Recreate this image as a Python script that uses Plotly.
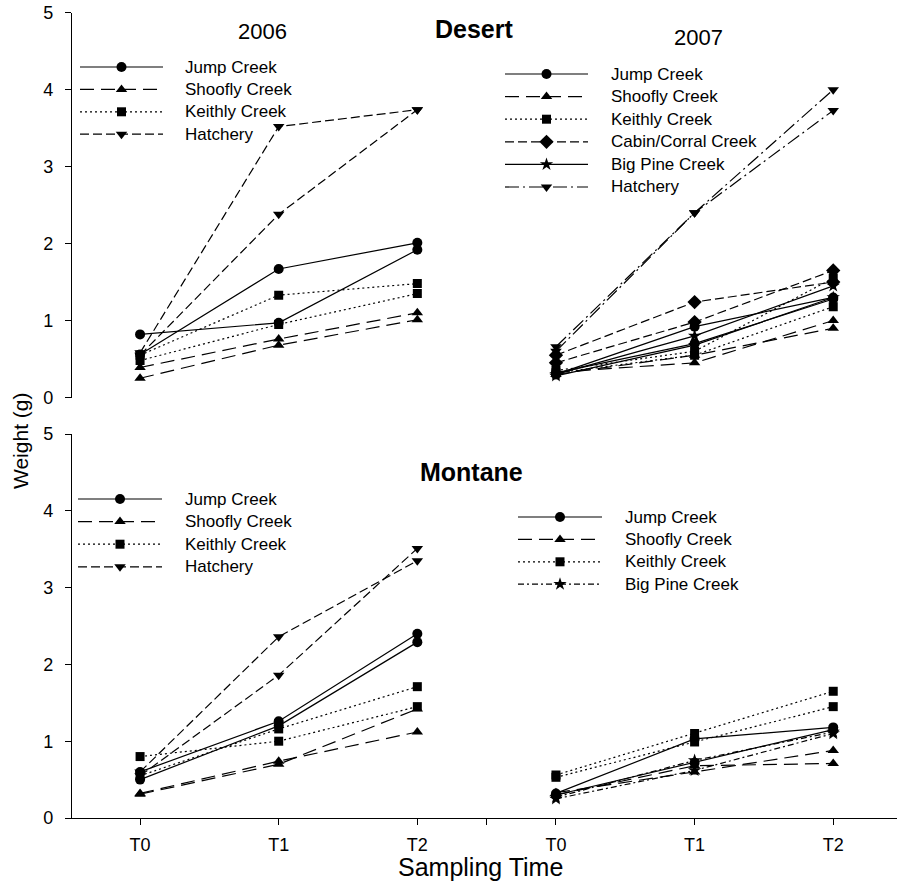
import plotly.graph_objects as go

# ---------------- data ----------------
TIMES = ["T0", "T1", "T2"]
YEARS = ["2006", "2007"]

# Desert 2006 (two replicate lines per site)
D06_JUMP = [[0.82, 0.97, 1.92], [0.56, 1.67, 2.01]]
D06_SHOOFLY = [[0.39, 0.76, 1.10], [0.25, 0.68, 1.01]]
D06_KEITHLY = [[0.55, 1.33, 1.48], [0.48, 0.95, 1.35]]
D06_HATCHERY = [[0.58, 3.52, 3.74], [0.55, 2.38, 3.74]]

# Desert 2007
D07_JUMP = [[0.30, 0.92, 1.30], [0.32, 0.70, 1.28]]
D07_SHOOFLY = [[0.33, 0.45, 1.00], [0.30, 0.55, 0.90]]
D07_KEITHLY = [[0.35, 0.60, 1.55], [0.32, 0.55, 1.18]]
D07_CABIN = [[0.55, 1.24, 1.50], [0.45, 0.98, 1.65]]
D07_BIGPINE = [[0.30, 0.80, 1.45], [0.28, 0.68, 1.30]]
D07_HATCHERY = [[0.66, 2.40, 4.00], [0.60, 2.40, 3.73]]

# Montane 2006
M06_JUMP = [[0.60, 1.26, 2.40], [0.50, 1.20, 2.29]]
M06_SHOOFLY = [[0.32, 0.74, 1.12], [0.31, 0.70, 1.42]]
M06_KEITHLY = [[0.80, 1.00, 1.45], [0.55, 1.16, 1.71]]
M06_HATCHERY = [[0.60, 2.36, 3.35], [0.55, 1.86, 3.51]]

# Montane 2007
M07_JUMP = [[0.32, 1.03, 1.18], [0.30, 0.72, 1.15]]
M07_SHOOFLY = [[0.33, 0.60, 0.88], [0.30, 0.68, 0.71]]
M07_KEITHLY = [[0.56, 1.10, 1.65], [0.53, 0.99, 1.45]]
M07_BIGPINE = [[0.27, 0.75, 1.12], [0.25, 0.62, 1.10]]

# ---------------- styles / layout ----------------
FONT = "Liberation Sans, Arial, Helvetica, sans-serif"
W, H = 897, 887
LW = 1.2

STYLE = {
    "Jump Creek": dict(symbol="circle", dash="solid", size=10),
    "Shoofly Creek": dict(symbol="triangle-up", dash="14px,7px", size=10),
    "Keithly Creek": dict(symbol="square", dash="2px,3px", size=9),
    "Hatchery06": dict(symbol="triangle-down", dash="9px,4px", size=10),
    "Cabin/Corral Creek": dict(symbol="diamond", dash="9px,4px", size=11),
    "Big Pine Creek": dict(symbol="star", dash="solid", size=10),
    "Hatchery07": dict(symbol="triangle-down", dash="14px,4px,2px,4px", size=10),
    "Big Pine CreekM": dict(symbol="star", dash="6px,3px,2px,3px", size=10),
}

PANELS = [
    ("x", "y", 0, [("Jump Creek", "Jump Creek", D06_JUMP),
                   ("Shoofly Creek", "Shoofly Creek", D06_SHOOFLY),
                   ("Keithly Creek", "Keithly Creek", D06_KEITHLY),
                   ("Hatchery", "Hatchery06", D06_HATCHERY)]),
    ("x", "y", 1, [("Jump Creek", "Jump Creek", D07_JUMP),
                   ("Shoofly Creek", "Shoofly Creek", D07_SHOOFLY),
                   ("Keithly Creek", "Keithly Creek", D07_KEITHLY),
                   ("Cabin/Corral Creek", "Cabin/Corral Creek", D07_CABIN),
                   ("Big Pine Creek", "Big Pine Creek", D07_BIGPINE),
                   ("Hatchery", "Hatchery07", D07_HATCHERY)]),
    ("x2", "y2", 0, [("Jump Creek", "Jump Creek", M06_JUMP),
                     ("Shoofly Creek", "Shoofly Creek", M06_SHOOFLY),
                     ("Keithly Creek", "Keithly Creek", M06_KEITHLY),
                     ("Hatchery", "Hatchery06", M06_HATCHERY)]),
    ("x2", "y2", 1, [("Jump Creek", "Jump Creek", M07_JUMP),
                     ("Shoofly Creek", "Shoofly Creek", M07_SHOOFLY),
                     ("Keithly Creek", "Keithly Creek", M07_KEITHLY),
                     ("Big Pine Creek", "Big Pine CreekM", M07_BIGPINE)]),
]

# legend layout in pixels: (line x0, line x1, text x, first row y, row gap)
LEGEND_POS = [
    (80, 163, 183, 67, 22.4),
    (505, 588, 609, 74, 22.6),
    (78, 162, 183, 499, 22.6),
    (518, 602, 623, 517, 22.4),
]


def pxx(x):
    return x / W


def pxy(y):
    return 1 - y / H


fig = go.Figure()

for xa, ya, yi, series in PANELS:
    xs = [yi * len(TIMES) + i + 1 for i in range(len(TIMES))]
    for name, skey, reps in series:
        st = STYLE[skey]
        for rep in reps:
            fig.add_trace(go.Scatter(
                x=xs, y=rep, xaxis=xa, yaxis=ya, mode="lines+markers",
                line=dict(color="black", width=LW, dash=st["dash"]),
                marker=dict(symbol=st["symbol"], size=st["size"], color="black"),
                showlegend=False, hoverinfo="skip"))

annotations = []

# manual legends drawn on an overlay pixel axis
for pi, (xa, ya, yi, series) in enumerate(PANELS):
    x0, x1, tx, y0, gap = LEGEND_POS[pi]
    for k, (name, skey, reps) in enumerate(series):
        st = STYLE[skey]
        yy = y0 + k * gap
        fig.add_trace(go.Scatter(
            x=[x0, x1], y=[yy, yy], xaxis="x3", yaxis="y3",
            mode="lines", line=dict(color="black", width=LW, dash=st["dash"]),
            showlegend=False, hoverinfo="skip"))
        fig.add_trace(go.Scatter(
            x=[(x0 + x1) / 2], y=[yy], xaxis="x3", yaxis="y3",
            mode="markers",
            marker=dict(symbol=st["symbol"], size=st["size"], color="black"),
            showlegend=False, hoverinfo="skip"))
        annotations.append(dict(
            x=pxx(tx), y=pxy(yy), text=name, xanchor="left", yanchor="middle",
            font=dict(family=FONT, size=17)))

annotations += [
    dict(x=pxx(262), y=pxy(31), text=YEARS[0], font=dict(family=FONT, size=22)),
    dict(x=pxx(698), y=pxy(37), text=YEARS[1], font=dict(family=FONT, size=22)),
    dict(x=pxx(474), y=pxy(29), text="<b>Desert</b>", font=dict(family=FONT, size=25)),
    dict(x=pxx(471), y=pxy(472), text="<b>Montane</b>", font=dict(family=FONT, size=25)),
    dict(x=pxx(480), y=pxy(867), text="Sampling Time", font=dict(family=FONT, size=25)),
    dict(x=pxx(20), y=pxy(441), text="Weight (g)", textangle=-90,
         font=dict(family=FONT, size=21)),
]
for a in annotations:
    a.setdefault("xref", "paper")
    a.setdefault("yref", "paper")
    a.setdefault("showarrow", False)
    a.setdefault("xanchor", "center")
    a.setdefault("yanchor", "middle")
    a["font"]["color"] = "black"

XR = [0.509, 6.46]
tickvals = [1, 2, 3, 3.5, 4, 5, 6]
ticktext = TIMES + [""] + TIMES

yax = dict(range=[0, 5], dtick=1, showline=True, linecolor="black", linewidth=1.2,
           ticks="outside", ticklen=6, tickwidth=1, tickcolor="black",
           showgrid=False, zeroline=False, ticklabelstandoff=8, automargin=False,
           ticklabeloverflow="allow",
           tickfont=dict(family=FONT, size=18, color="black"))

fig.update_layout(
    width=W, height=H,
    margin=dict(l=0, r=0, t=0, b=0, pad=0, autoexpand=False),
    paper_bgcolor="white", plot_bgcolor="rgba(0,0,0,0)",
    showlegend=False,
    xaxis=dict(domain=[72 / W, 1], range=XR, anchor="y", showline=False,
               showticklabels=False, ticks="", showgrid=False, zeroline=False,
               automargin=False),
    xaxis2=dict(domain=[72 / W, 1], range=XR, anchor="y2", showline=True,
                linecolor="black", linewidth=1.2, tickvals=tickvals,
                ticktext=ticktext, ticks="outside", ticklen=6, tickcolor="black",
                showgrid=False, zeroline=False, ticklabelstandoff=4,
                automargin=False, ticklabeloverflow="allow",
                tickfont=dict(family=FONT, size=18, color="black")),
    yaxis=dict(domain=[pxy(397.5), pxy(12.7)], anchor="x", **yax),
    yaxis2=dict(domain=[pxy(818), pxy(434)], anchor="x2", **yax),
    xaxis3=dict(domain=[0, 1], range=[0, W], visible=False, anchor="y3",
                automargin=False),
    yaxis3=dict(domain=[0, 1], range=[H, 0], visible=False, anchor="x3",
                automargin=False),
    annotations=annotations,
)

# remove the default page margin so the figure sits at the window's corner
fig.write_html("out.html", config={"displayModeBar": False},
               post_script="document.body.style.margin='0';")
